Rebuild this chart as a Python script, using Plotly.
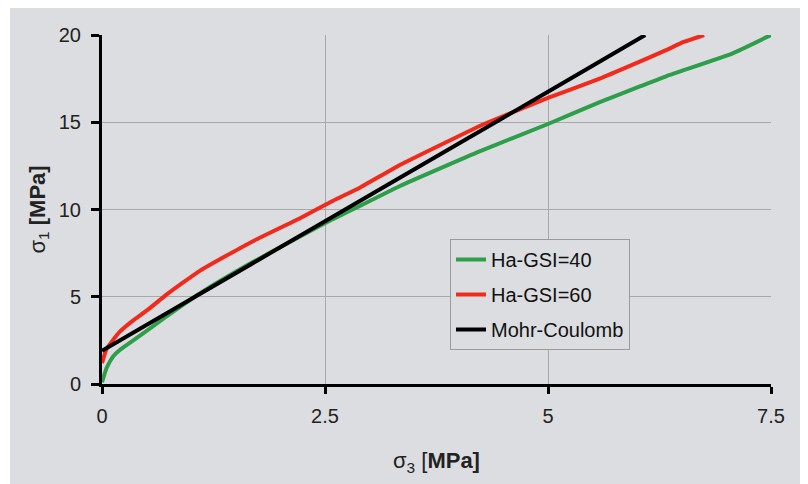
import plotly.graph_objects as go

# Data
s3_gsi40 = [0, 0.05, 0.12, 0.2, 0.35, 0.5, 0.73, 1.1, 1.66, 2.22, 2.59, 2.89, 3.34, 4.24, 5.0, 5.58, 6.03, 6.33, 7.07, 7.5]
s1_gsi40 = [0.1, 0.9, 1.55, 1.95, 2.5, 3.05, 3.9, 5.2, 6.9, 8.45, 9.45, 10.2, 11.35, 13.35, 14.9, 16.15, 17.05, 17.65, 18.95, 20.0]

s3_gsi60 = [0, 0.05, 0.12, 0.2, 0.35, 0.5, 0.73, 1.1, 1.66, 2.22, 2.59, 2.89, 3.34, 4.24, 4.33, 5.0, 5.58, 5.95, 6.33, 6.52, 6.75]
s1_gsi60 = [1.2, 2.0, 2.5, 3.0, 3.65, 4.2, 5.15, 6.5, 8.1, 9.5, 10.5, 11.25, 12.55, 14.8, 15.0, 16.4, 17.5, 18.3, 19.15, 19.6, 20.0]

s3_mc = [0, 1.0, 2.5, 4.0, 5.0, 6.09]
s1_mc = [1.9, 4.87, 9.33, 13.78, 16.75, 20.0]

x_ticks = [0, 2.5, 5, 7.5]
x_tick_labels = ["0", "2.5", "5", "7.5"]
y_ticks = [0, 5, 10, 15, 20]
y_tick_labels = ["0", "5", "10", "15", "20"]

names = ["Ha-GSI=40", "Ha-GSI=60", "Mohr-Coulomb"]
colors = ["#2f9e4a", "#f22a1c", "#000000"]

BG = "#dcdde0"
FONT = "Liberation Sans, Arial, sans-serif"

fig = go.Figure()
for i, (xs, ys) in enumerate([(s3_gsi40, s1_gsi40), (s3_gsi60, s1_gsi60), (s3_mc, s1_mc)]):
    fig.add_trace(go.Scatter(
        x=xs, y=ys, mode="lines", name=names[i],
        line=dict(color=colors[i], width=4, shape="spline", smoothing=0.4),
        legendgroup=f"g{i}",
    ))

# page body has an 8px margin: figure starts at screen (8, 8)
OFF = 8
W, H = 800, 476
L, R, T, B = 94, 37, 27, 100
pw, ph = W - L - R, H - T - B

def px_x(p):  # screen px -> paper x
    return (p - OFF - L) / pw

def px_y(p):  # screen px -> paper y
    return (H - B - (p - OFF)) / ph

fig.add_shape(type="rect", xref="paper", yref="paper",
              x0=px_x(10), x1=px_x(804), y0=px_y(490), y1=px_y(0),
              fillcolor=BG, line=dict(width=0), layer="below")

fig.update_layout(
    width=W, height=H,
    margin=dict(l=L, r=R, t=T, b=B),
    paper_bgcolor="white",
    plot_bgcolor=BG,
    font=dict(family=FONT, size=20, color="#222222"),
    showlegend=True,
    legend=dict(
        x=px_x(450), y=px_y(239), xanchor="left", yanchor="top",
        bgcolor=BG, bordercolor="#9a9a9a", borderwidth=1,
        font=dict(family=FONT, size=20, color="#111111"),
        tracegroupgap=6,
    ),
    xaxis=dict(
        range=[0, 7.5], tickvals=x_ticks, ticktext=x_tick_labels,
        showgrid=True, gridcolor="#a8a8a8", gridwidth=1,
        showline=True, linecolor="black", linewidth=3,
        ticks="outside", ticklen=7, tickwidth=3, tickcolor="black",
        ticklabelstandoff=5,
        zeroline=False, fixedrange=True,
    ),
    yaxis=dict(
        range=[0, 20], tickvals=y_ticks, ticktext=y_tick_labels,
        showgrid=True, gridcolor="#a8a8a8", gridwidth=1,
        showline=True, linecolor="black", linewidth=3,
        ticks="outside", ticklen=8, tickwidth=3, tickcolor="black",
        ticklabelstandoff=6,
        zeroline=False, fixedrange=True,
    ),
    annotations=[
        dict(text="σ<sub>3</sub> [<b>MPa]</b>", xref="paper", yref="paper",
             x=0.5, y=px_y(462), xanchor="center", yanchor="middle",
             showarrow=False, font=dict(family=FONT, size=22, color="#222222")),
        dict(text="σ<sub>1</sub> <b>[MPa]</b>", xref="paper", yref="paper",
             x=px_x(38), y=0.5, xanchor="center", yanchor="middle", textangle=-90,
             showarrow=False, font=dict(family=FONT, size=22, color="#222222")),
    ],
)

fig.write_html("out.html")
